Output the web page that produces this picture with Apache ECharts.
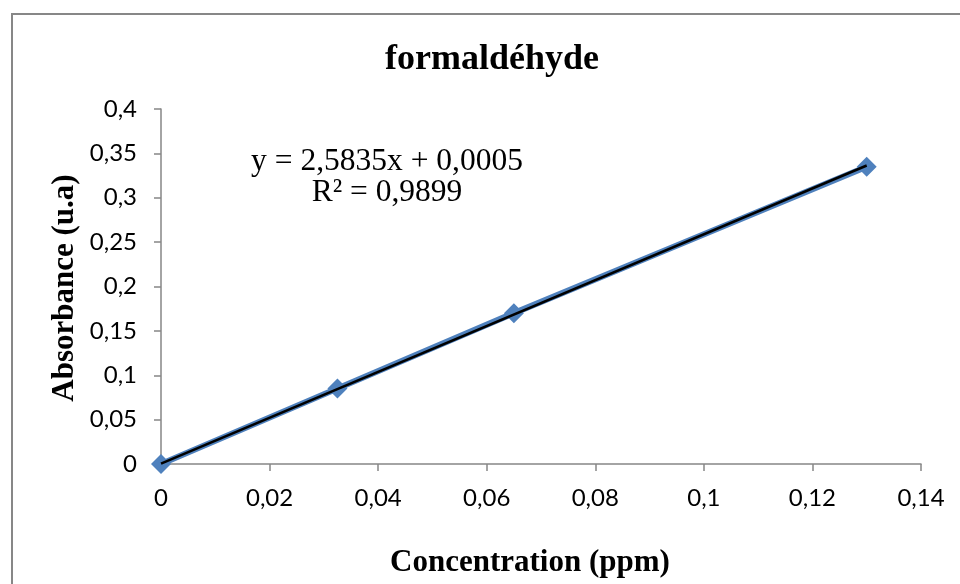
<!DOCTYPE html>
<html>
<head>
<meta charset="utf-8">
<script src="https://cdn.jsdelivr.net/npm/echarts@6/dist/echarts.min.js"></script>
<style>html,body{margin:0;padding:0;background:#fff}#c{width:960px;height:584px}</style>
</head>
<body>
<div id="c"></div>
<script>
const concentration = [0, 0.0325, 0.065, 0.13];
const absorbance = [0, 0.085, 0.17, 0.335];
const trendSlope = 2.5835;
const trendIntercept = 0.0005;
const equationLines = ['y = 2,5835x + 0,0005', 'R² = 0,9899'];
const titleText = 'formaldéhyde';
const xTitle = 'Concentration (ppm)';
const yTitle = 'Absorbance (u.a)';

const points = concentration.map((x, i) => [x, absorbance[i]]);
const xStart = concentration[0], xEnd = concentration[concentration.length - 1];
const trend = [[xStart, trendSlope * xStart + trendIntercept], [xEnd, trendSlope * xEnd + trendIntercept]];
const fmt = v => String(+v.toFixed(4)).replace('.', ',');
const serif = '"Liberation Serif","Times New Roman",serif';
const sans = 'Lato, "Open Sans", sans-serif';

const chart = echarts.init(document.getElementById('c'));
chart.setOption({
  animation: false,
  backgroundColor: '#fff',
  grid: { left: 161, right: 39, top: 109, bottom: 120 },
  xAxis: {
    type: 'value', min: 0, max: 0.14, interval: 0.02,
    axisLine: { show: true, lineStyle: { color: '#868686', width: 1.5 } },
    axisTick: { show: true, length: 7, lineStyle: { color: '#868686', width: 1.5 } },
    splitLine: { show: false },
    axisLabel: { formatter: fmt, color: '#000', fontFamily: sans, fontSize: 24, margin: 22 }
  },
  yAxis: {
    type: 'value', min: 0, max: 0.4, interval: 0.05,
    axisLine: { show: true, lineStyle: { color: '#868686', width: 1.5 } },
    axisTick: { show: true, length: 7, lineStyle: { color: '#868686', width: 1.5 } },
    splitLine: { show: false },
    axisLabel: { formatter: fmt, color: '#000', fontFamily: sans, fontSize: 24, margin: 24 }
  },
  series: [
    {
      type: 'line', data: points, symbol: 'diamond', symbolSize: 20,
      lineStyle: { color: '#4F81BD', width: 6 },
      itemStyle: { color: '#4F81BD' }, z: 2
    },
    {
      type: 'line', data: trend, symbol: 'none',
      lineStyle: { color: '#000', width: 2.5 }, z: 3
    }
  ],
  graphic: [
    { type: 'rect', shape: { x: 12, y: 14, width: 1000, height: 1000 },
      style: { fill: 'none', stroke: '#878787', lineWidth: 2 }, silent: true },
    { type: 'text', x: 492, y: 60, style: { text: titleText, font: 'bold 36px ' + serif, fill: '#000', textAlign: 'center', textVerticalAlign: 'middle' } },
    { type: 'text', x: 530, y: 563, style: { text: xTitle, font: 'bold 31px ' + serif, fill: '#000', textAlign: 'center', textVerticalAlign: 'middle' } },
    { type: 'text', x: 65, y: 288, rotation: Math.PI / 2, style: { text: yTitle, font: 'bold 31px ' + serif, fill: '#000', textAlign: 'center', textVerticalAlign: 'middle' } },
    { type: 'text', x: 387, y: 162, style: { text: equationLines[0], font: '31.5px ' + serif, fill: '#000', textAlign: 'center', textVerticalAlign: 'middle' } },
    { type: 'text', x: 387, y: 193, style: { text: equationLines[1], font: '31.5px ' + serif, fill: '#000', textAlign: 'center', textVerticalAlign: 'middle' } }
  ]
});
</script>
</body>
</html>
